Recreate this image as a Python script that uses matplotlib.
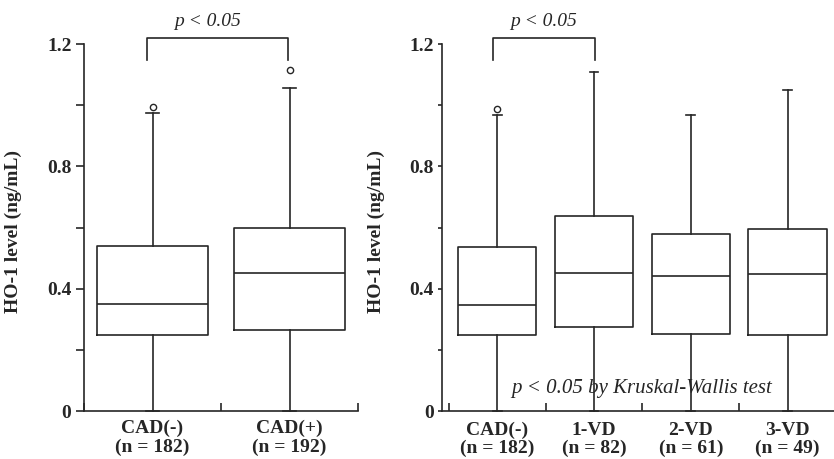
import matplotlib
matplotlib.use("Agg")
import matplotlib.pyplot as plt  # noqa: E402

INK = "#262626"
FONT = "Liberation Serif"

# left panel: CAD(-) vs CAD(+)
left_groups = ["CAD(-)\n(n = 182)", "CAD(+)\n(n = 192)"]
left_q1 = [0.248, 0.266]
left_med = [0.351, 0.451]
left_q3 = [0.540, 0.599]
left_lo = [0.0, 0.0]
left_hi = [0.976, 1.055]
left_fliers = [[0.994], [1.116]]

# right panel: by number of diseased vessels
right_groups = ["CAD(-)\n(n = 182)", "1-VD\n(n = 82)", "2-VD\n(n = 61)",
                "3-VD\n(n = 49)"]
right_q1 = [0.247, 0.275, 0.251, 0.247]
right_med = [0.348, 0.451, 0.440, 0.447]
right_q3 = [0.537, 0.637, 0.579, 0.594]
right_lo = [0.0, 0.0, 0.0, 0.0]
right_hi = [0.968, 1.109, 0.968, 1.049]
right_fliers = [[0.987], [], [], []]

y_ticks = [0, 0.4, 0.8, 1.2]
y_tick_labels = ["0", "0.4", "0.8", "1.2"]
y_minor = [0.2, 0.6, 1.0]


def stats(q1, med, q3, lo, hi, fl):
    return [dict(q1=a, med=b, q3=c, whislo=d, whishi=e, fliers=f)
            for a, b, c, d, e, f in zip(q1, med, q3, lo, hi, fl)]


def draw(ax, st, groups, capw, tick_len, label_pad, spacing, xlim):
    n = len(groups)
    pos = [i + 0.5 for i in range(n)]
    line = dict(color=INK, linewidth=1.2)
    art = ax.bxp(st, positions=pos, widths=0.81, capwidths=capw,
                 boxprops=line, whiskerprops=line, capprops=line,
                 medianprops=line, manage_ticks=False,
                 flierprops=dict(marker="o", markersize=4.5,
                                 markerfacecolor="white",
                                 markeredgecolor=INK, markeredgewidth=1.0))
    for group in art.values():
        for a in group:
            a.set_clip_on(False)
    ax.set_xlim(*xlim)
    ax.set_ylim(0, 1.2)
    for side in ("top", "right"):
        ax.spines[side].set_visible(False)
    for side in ("left", "bottom"):
        ax.spines[side].set_color(INK)
        ax.spines[side].set_linewidth(1.2)
    ax.set_yticks(y_ticks)
    ax.set_yticklabels(y_tick_labels, fontfamily=FONT, fontweight="bold",
                       fontsize=14, color=INK)
    ax.set_yticks(y_minor, minor=True)
    ax.tick_params(axis="y", which="both", direction="out", length=tick_len,
                   width=1.2, color=INK, pad=3)
    ax.set_xticks(range(n + 1))
    ax.set_xticklabels([])
    ax.set_xticks(pos, minor=True)
    ax.set_xticklabels(groups, minor=True, fontfamily=FONT,
                       fontweight="bold", fontsize=14, color=INK,
                       linespacing=spacing)
    ax.tick_params(axis="x", which="major", direction="in", length=6,
                   width=1.2, color=INK)
    ax.tick_params(axis="x", which="minor", length=0, pad=label_pad)
    ax.set_ylabel("HO-1 level (ng/mL)", fontfamily=FONT, fontweight="bold",
                  fontsize=14, color=INK)


def bracket(ax, x0, x1, text_x):
    ax.plot([x0, x0, x1, x1], [1.148, 1.218, 1.218, 1.148], color=INK,
            linewidth=1.2, clip_on=False)
    ax.text(text_x, 1.272, "p < 0.05", ha="center", va="center",
            fontfamily=FONT, fontstyle="italic", fontsize=14, color=INK)


fig = plt.figure(figsize=(8.34, 4.59), dpi=100, facecolor="white")
ax1 = fig.add_axes([84 / 834, 48 / 459, 274 / 834, 367 / 459])
ax2 = fig.add_axes([442 / 834, 48 / 459, 394 / 834, 367 / 459])

draw(ax1, stats(left_q1, left_med, left_q3, left_lo, left_hi, left_fliers),
     left_groups, 0.1, 6, 6, 1.12, (0, 2))
ax1.yaxis.set_label_coords(-0.226, 0.49)
bracket(ax1, 0.46, 1.49, 0.9)

draw(ax2, stats(right_q1, right_med, right_q3, right_lo, right_hi,
                right_fliers),
     right_groups, 0.09, 3, 8, 1.05, (-0.07, 3.93))
ax2.yaxis.set_label_coords(-0.145, 0.49)
bracket(ax2, 0.46, 1.51, 0.975)
ax2.text(0.65, 0.075, "p < 0.05 by Kruskal-Wallis test", ha="left",
         va="center", fontfamily=FONT, fontstyle="italic", fontsize=15,
         color=INK)

fig.savefig("out.png", dpi=100, facecolor="white")
